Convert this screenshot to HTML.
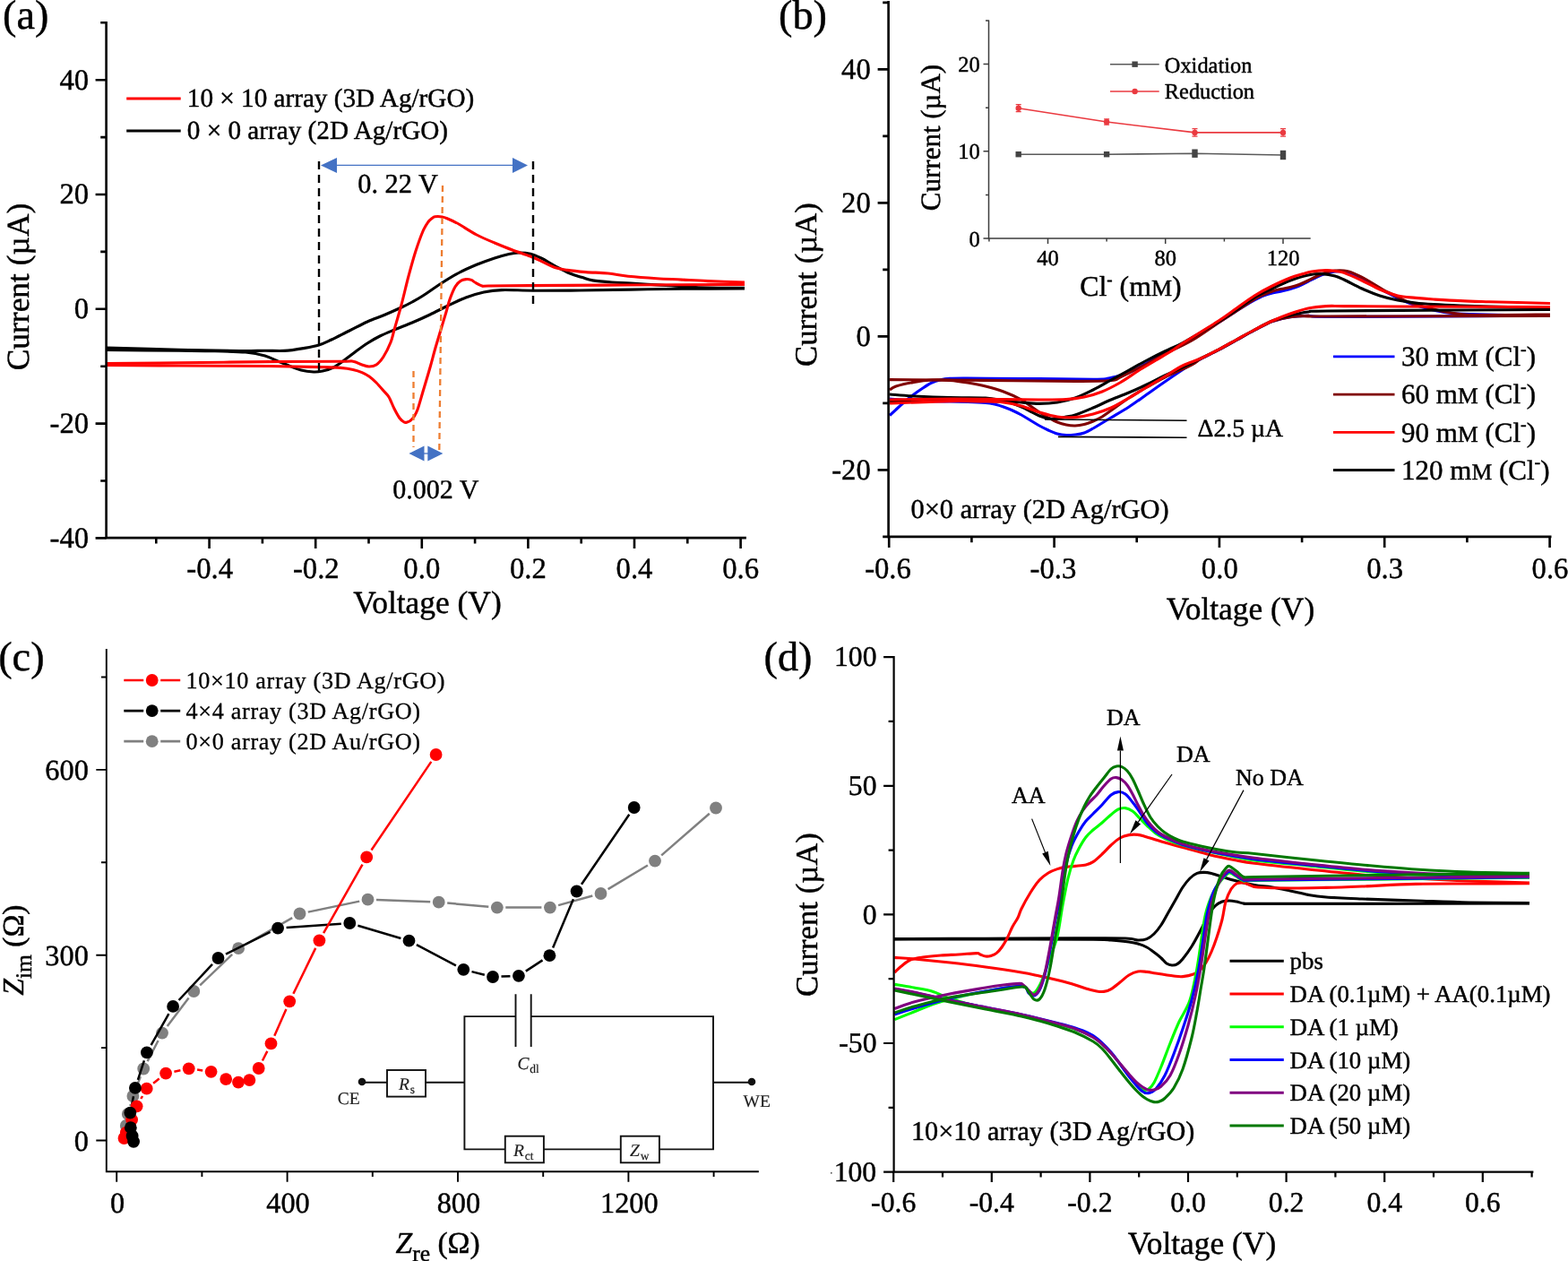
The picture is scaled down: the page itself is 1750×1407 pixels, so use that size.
<!DOCTYPE html>
<html lang="en">
<head>
<meta charset="utf-8">
<title>Electrochemical characterisation of Ag/rGO micropillar array electrodes</title>
<style>
html,body{margin:0;padding:0;background:#fff;}
body{width:1750px;height:1407px;overflow:hidden;font-family:"Liberation Serif","DejaVu Serif",serif;}
svg{display:block;}
</style>
</head>
<body>
<svg role="img" aria-label="Figure: electrochemical characterisation, panels a to d" width="1750" height="1407" viewBox="0 0 1750 1407" font-family="'Liberation Serif', 'DejaVu Serif', serif" text-rendering="geometricPrecision">
<style>text{stroke:#000;stroke-width:0.45px;stroke-linejoin:round}</style>
<rect width="1750" height="1407" fill="#fff"/>
<g id="panel-a">
<text x="234.2" y="644.7" font-size="32.7" text-anchor="middle">-0.4</text>
<text x="352.8" y="644.7" font-size="32.7" text-anchor="middle">-0.2</text>
<text x="470.8" y="644.7" font-size="32.7" text-anchor="middle">0.0</text>
<text x="589.4" y="644.7" font-size="32.7" text-anchor="middle">0.2</text>
<text x="708" y="644.7" font-size="32.7" text-anchor="middle">0.4</text>
<text x="826.6" y="644.7" font-size="32.7" text-anchor="middle">0.6</text>
<text x="99.2" y="99.6" font-size="32.7" text-anchor="end">40</text>
<text x="99.2" y="227.4" font-size="32.7" text-anchor="end">20</text>
<text x="99.2" y="355.2" font-size="32.7" text-anchor="end">0</text>
<text x="99.2" y="483" font-size="32.7" text-anchor="end">-20</text>
<text x="99.2" y="610.8" font-size="32.7" text-anchor="end">-40</text>
<text x="477" y="683.5" font-size="35.4" text-anchor="middle">Voltage (V)</text>
<text x="31.8" y="320" font-size="35.4" text-anchor="middle" transform="rotate(-90 31.8 320)">Current (µA)</text>
<text x="3" y="32" font-size="46.3">(a)</text>
<path d="M118.9 388C132.4 388.4 175.3 389.6 200 390.2C224.7 390.8 251.1 391.3 267 391.5C282.9 391.7 287.4 391.2 295.7 391.2C304 391.2 309.9 391.8 317 391.4C324.1 391 332.1 389.7 338.6 388.6C345.1 387.5 350.8 386.6 356 385C361.2 383.4 364.3 381.7 370 379C375.7 376.3 383.3 372.3 390 369C396.7 365.7 403.3 362 410 359C416.7 356 423.7 353.7 430 351C436.3 348.3 443 345.3 448 343C453 340.7 456 339.2 460 337C464 334.8 466.7 333.4 472 330C477.3 326.6 485.3 320.8 492 316.5C498.7 312.2 505.3 308 512 304.5C518.7 301 525.3 298.1 532 295.3C538.7 292.6 546 290 552 288C558 286 563.5 284.5 568 283.5C572.5 282.5 575 282.1 579 282C583 281.9 587.8 282.2 592 283.2C596.2 284.2 599.3 285.7 604 288C608.7 290.3 614.7 294.2 620 297C625.3 299.8 631 302.9 636 305C641 307.1 645.8 308.3 650 309.6C654.2 310.9 655.9 312 661.4 312.9C666.9 313.8 675.9 314.5 683 315C690.1 315.5 695.7 315.5 704 316C712.3 316.5 723.4 317.3 733 317.9C742.6 318.5 751.9 319.2 761.4 319.7C770.9 320.2 778.4 320.7 790 321C801.6 321.3 824.2 321.3 831 321.4" fill="none" stroke="#000" stroke-width="3.1" stroke-linejoin="round" stroke-linecap="butt" />
<path d="M831 321.9C819.3 322 782.2 322.1 761 322.3C739.8 322.5 723 322.8 704 323.1C685 323.4 665.2 323.8 647 324C628.8 324.2 609.5 324.3 595 324.2C580.5 324.1 569.2 323.3 560 323.6C550.8 323.9 546.7 324.6 540 326C533.3 327.4 526.7 329.5 520 332C513.3 334.5 506.7 337.8 500 341C493.3 344.2 486.7 347.8 480 351C473.3 354.2 466.7 357.2 460 360C453.3 362.8 446 365.5 440 368C434 370.5 429 372.5 424 375C419 377.5 414.7 380 410 383C405.3 386 400.3 389.8 396 393C391.7 396.2 388 399.2 384 402C380 404.8 376 408 372 410C368 412 363.7 413.2 360 414C356.3 414.8 354 415.2 350 415C346 414.8 341 414.3 336 413C331 411.7 324.3 408.7 320 407C315.7 405.3 314.1 404.7 310 403C305.9 401.3 301.7 398.7 295.7 397C289.7 395.3 283.3 393.9 274 393C264.7 392.1 252.3 392.1 240 391.8C227.7 391.5 220.2 391.5 200 391.3C179.8 391.1 132.4 390.6 118.9 390.5" fill="none" stroke="#000" stroke-width="3.1" stroke-linejoin="round" stroke-linecap="butt" />
<path d="M118.9 405.5C132.4 405.4 169.8 405.1 200 404.8C230.2 404.5 270 403.9 300 403.6C330 403.3 364.3 403.3 380 403.2C395.7 403.1 390 402.6 394 403.2C398 403.8 401 406 404 407C407 408 409.3 409 412 409C414.7 409 417.3 408.8 420 407C422.7 405.2 425.3 402.2 428 398C430.7 393.8 434 387 436 382C438 377 438 375 440 368C442 361 445.3 350 448 340C450.7 330 453.3 318 456 308C458.7 298 461.3 288.3 464 280C466.7 271.7 469.7 263.4 472 258C474.3 252.6 476.3 249.9 478 247.5C479.7 245.1 480.8 244.8 482 243.8C483.2 242.9 483.6 242.1 485.5 241.8C487.4 241.5 491.1 241.6 493.5 242C495.9 242.4 496.9 242.9 500 244.2C503.1 245.5 506.7 247 512 250C517.3 253 525.3 258.5 532 262C538.7 265.5 545.3 268.2 552 271C558.7 273.8 565.3 276.5 572 279C578.7 281.5 586.7 283.9 592 286C597.3 288.1 599.6 289.3 604 291.4C608.4 293.4 613.8 296.6 618.6 298.3C623.4 300 627.1 300.5 633 301.4C638.9 302.3 646.4 303 654 303.6C661.6 304.2 670.8 304.2 678.6 305C686.4 305.8 691.9 307.4 701 308.3C710.1 309.2 723 310.1 733 310.7C743 311.3 751.5 311.6 761 312.1C770.5 312.6 778.3 313.1 790 313.6C801.7 314.1 824.2 314.8 831 315" fill="none" stroke="#f00" stroke-width="3.1" stroke-linejoin="round" stroke-linecap="butt" />
<path d="M831 317.4C809.2 317.5 740.2 317.8 700 318C659.8 318.2 615.8 318.4 590 318.6C564.2 318.8 553.7 318.9 545 319C536.3 319.1 540.5 319.7 538 319C535.5 318.3 532 316.1 530 315C528 313.9 527.7 313 526 312.4C524.3 311.8 522 311.4 520 311.6C518 311.8 516 312.2 514 313.6C512 315 510 316.6 508 320C506 323.4 503.7 329.3 502 334C500.3 338.7 499.7 342.3 498 348C496.3 353.7 494 361.3 492 368C490 374.7 488 381 486 388C484 395 482.3 401.8 480 410C477.7 418.2 474.3 429.2 472 437C469.7 444.8 467.7 452.3 466 457C464.3 461.7 463.3 462.9 462 465C460.7 467.1 459.2 468.4 458 469.4C456.8 470.4 455.7 470.7 454.5 471C453.3 471.3 452.4 471.8 451 471C449.6 470.2 447.8 469 446 466.5C444.2 464 442 459.9 440 456C438 452.1 436 446.3 434 443C432 439.7 430.3 438.7 428 436C425.7 433.3 422.7 429.7 420 427C417.3 424.3 414.7 421.9 412 420C409.3 418.1 407 416.9 404 415.6C401 414.3 398 413.3 394 412.4C390 411.5 385.7 410.9 380 410.4C374.3 409.9 373.3 409.9 360 409.6C346.7 409.3 326.7 408.8 300 408.5C273.3 408.2 230.2 408.2 200 408C169.8 407.8 132.4 407.6 118.9 407.5" fill="none" stroke="#f00" stroke-width="3.1" stroke-linejoin="round" stroke-linecap="butt" />
<line x1="141.2" y1="110" x2="201.7" y2="110" stroke="#f00" stroke-width="3.1" />
<line x1="141.2" y1="146" x2="201.7" y2="146" stroke="#000" stroke-width="3.1" />
<text x="208.8" y="118.5" font-size="29.2">10 × 10 array (3D Ag/rGO)</text>
<text x="208.8" y="154.5" font-size="29.2">0 × 0 array (2D Ag/rGO)</text>
<line x1="356" y1="180" x2="356" y2="414" stroke="#000" stroke-width="2.4" stroke-dasharray="9 6"/>
<line x1="595" y1="180" x2="595" y2="342" stroke="#000" stroke-width="2.4" stroke-dasharray="9 6"/>
<line x1="494" y1="207" x2="490.3" y2="502" stroke="#ED7D31" stroke-width="2.3" stroke-dasharray="7 5"/>
<line x1="461.5" y1="414" x2="461.5" y2="499" stroke="#ED7D31" stroke-width="2.3" stroke-dasharray="7 5"/>
<path d="M372 184.4H574" stroke="#4472C4" stroke-width="1.3" fill="none"/>
<polygon points="358,184.4 376,176 376,193" fill="#4472C4"/>
<polygon points="589,184.4 572,176 572,193" fill="#4472C4"/>
<polygon points="456.4,506 473.5,497.5 473.5,514.5" fill="#4472C4"/>
<polygon points="494.4,506 477.3,497.5 477.3,514.5" fill="#4472C4"/>
<path d="M472 506H479" stroke="#4472C4" stroke-width="1.3"/>
<text x="399.3" y="215" font-size="30.3">0. 22 V</text>
<text x="438.3" y="555.5" font-size="30.0">0.002 V</text>
<path d="M118.6 25.2V600.1H831.6" fill="none" stroke="#000" stroke-width="2.6" stroke-linecap="square"/>
<path d="M233.6 600.1v12M352.2 600.1v12M470.8 600.1v12M589.4 600.1v12M708 600.1v12M826.6 600.1v12M174.3 600.1v6.4M292.9 600.1v6.4M411.5 600.1v6.4M530.1 600.1v6.4M648.7 600.1v6.4M767.3 600.1v6.4M118.6 89.2h-12M118.6 217h-12M118.6 344.8h-12M118.6 472.6h-12M118.6 600.4h-12M118.6 25.3h-6.4M118.6 153.1h-6.4M118.6 280.9h-6.4M118.6 408.7h-6.4M118.6 536.5h-6.4" fill="none" stroke="#000" stroke-width="2.6"/>
</g>
<g id="panel-b">
<text x="991" y="644.6" font-size="32.7" text-anchor="middle">-0.6</text>
<text x="1175.4" y="644.6" font-size="32.7" text-anchor="middle">-0.3</text>
<text x="1361.3" y="644.6" font-size="32.7" text-anchor="middle">0.0</text>
<text x="1545.7" y="644.6" font-size="32.7" text-anchor="middle">0.3</text>
<text x="1730" y="644.6" font-size="32.7" text-anchor="middle">0.6</text>
<text x="971.8" y="87.9" font-size="32.7" text-anchor="end">40</text>
<text x="971.8" y="236.9" font-size="32.7" text-anchor="end">20</text>
<text x="971.8" y="385.9" font-size="32.7" text-anchor="end">0</text>
<text x="971.8" y="534.9" font-size="32.7" text-anchor="end">-20</text>
<text x="1384.5" y="690.5" font-size="35.4" text-anchor="middle">Voltage (V)</text>
<text x="911.5" y="317.6" font-size="34.7" text-anchor="middle" transform="rotate(-90 911.5 317.6)">Current (µA)</text>
<text x="869" y="32" font-size="46.3">(b)</text>
<path d="M993 463.5C994.2 462.4 997.2 459.6 1000 457C1002.8 454.4 1006.7 450.8 1010 448C1013.3 445.2 1016.7 442.5 1020 440C1023.3 437.5 1026.7 435.2 1030 433C1033.3 430.8 1036.7 428.5 1040 427C1043.3 425.5 1046.7 424.6 1050 423.8C1053.3 423 1055.8 422.7 1060 422.4C1064.2 422.1 1068.3 422.1 1075 422.1C1081.7 422.1 1085.8 422.2 1100 422.3C1114.2 422.4 1140 422.5 1160 422.6C1180 422.8 1207.3 423.2 1220 423.2C1232.7 423.2 1231 423.1 1236 422.4C1241 421.7 1245.3 420.4 1250 419C1254.7 417.6 1259 416.3 1264 414C1269 411.7 1274 408.3 1280 405C1286 401.7 1293.3 397.5 1300 394C1306.7 390.5 1313.3 387.7 1320 384C1326.7 380.3 1333.3 376 1340 372C1346.7 368 1353.3 364.2 1360 360C1366.7 355.8 1373.3 351.2 1380 347C1386.7 342.8 1395 337.8 1400 335C1405 332.2 1406.7 331.3 1410 330C1413.3 328.7 1416.7 327.8 1420 327C1423.3 326.2 1426.7 325.8 1430 325C1433.3 324.2 1436.7 323.4 1440 322.4C1443.3 321.4 1446.7 320.4 1450 319C1453.3 317.6 1456.7 315.7 1460 314C1463.3 312.3 1466.7 310.5 1470 309C1473.3 307.5 1476.7 306 1480 305C1483.3 304 1486.7 303.3 1490 303C1493.3 302.7 1497.2 302.7 1500 303C1502.8 303.3 1504.5 303.8 1507 304.6C1509.5 305.4 1512 306.6 1515 308C1518 309.4 1521.7 311.2 1525 313C1528.3 314.8 1531.7 317 1535 319C1538.3 321 1541.7 323.2 1545 325C1548.3 326.8 1551.7 328.3 1555 330C1558.3 331.7 1561.7 333.5 1565 335C1568.3 336.5 1569.8 337.3 1575 339C1580.2 340.7 1589.2 343.3 1596 345C1602.8 346.7 1608.7 348.1 1616 349C1623.3 349.9 1629.3 350.2 1640 350.6C1650.7 351 1665 351.4 1680 351.5C1695 351.6 1721.7 351.5 1730 351.5" fill="none" stroke="#00f" stroke-width="3.1" stroke-linejoin="round" stroke-linecap="butt" />
<path d="M1730 352C1708.3 352.2 1641.7 352.8 1600 353C1558.3 353.2 1503.3 353.6 1480 353.5C1456.7 353.4 1466.7 352.4 1460 352.4C1453.3 352.4 1446.7 352.6 1440 353.6C1433.3 354.6 1426.7 356 1420 358.5C1413.3 361 1406.7 365 1400 368.5C1393.3 372 1386.7 375.8 1380 379.5C1373.3 383.2 1366.7 387 1360 390.5C1353.3 394 1345 397.9 1340 400.5C1335 403.1 1336.7 401.8 1330 406C1323.3 410.2 1308.3 420.3 1300 426C1291.7 431.7 1286.7 435.3 1280 440C1273.3 444.7 1266.7 449.7 1260 454C1253.3 458.3 1245 463 1240 466C1235 469 1233.3 470 1230 472C1226.7 474 1223.3 476.2 1220 478C1216.7 479.8 1213.3 481.8 1210 483C1206.7 484.2 1203.3 484.6 1200 485C1196.7 485.4 1193.3 485.8 1190 485.6C1186.7 485.4 1183.3 484.9 1180 484C1176.7 483.1 1173.3 481.5 1170 480C1166.7 478.5 1163.3 476.8 1160 475C1156.7 473.2 1153.3 471 1150 469C1146.7 467 1143.3 464.8 1140 463C1136.7 461.2 1133.3 459.5 1130 458C1126.7 456.5 1123.3 455.2 1120 454C1116.7 452.8 1113.3 451.8 1110 451C1106.7 450.2 1105 449.8 1100 449.4C1095 449 1086.7 448.6 1080 448.4C1073.3 448.2 1070 448.2 1060 448C1050 447.8 1031.2 447.5 1020 447C1008.8 446.5 997.5 445.3 993 445" fill="none" stroke="#00f" stroke-width="3.1" stroke-linejoin="round" stroke-linecap="butt" />
<path d="M993 423.6C1010.8 423.7 1065.5 424.1 1100 424.4C1134.5 424.7 1176.7 425.4 1200 425.4C1223.3 425.4 1231.7 425.2 1240 424.5C1248.3 423.8 1246.7 422.4 1250 421C1253.3 419.6 1255 418.5 1260 416C1265 413.5 1273.3 409.5 1280 406C1286.7 402.5 1291.7 399.3 1300 395C1308.3 390.7 1320 385.8 1330 380C1340 374.2 1351.7 365.5 1360 360C1368.3 354.5 1373.3 351.3 1380 347C1386.7 342.7 1395 337 1400 334C1405 331 1406.7 330.5 1410 329C1413.3 327.5 1416.7 326.1 1420 325C1423.3 323.9 1426.7 323.2 1430 322.5C1433.3 321.8 1436.7 321.3 1440 320.5C1443.3 319.7 1446.7 318.8 1450 317.5C1453.3 316.2 1456.7 314.6 1460 313C1463.3 311.4 1466.7 309.5 1470 308C1473.3 306.5 1476.7 305 1480 304C1483.3 303 1486.7 302.3 1490 302C1493.3 301.7 1497.2 301.7 1500 302C1502.8 302.3 1504.5 302.8 1507 303.6C1509.5 304.4 1512 305.6 1515 307C1518 308.4 1521.7 310.2 1525 312C1528.3 313.8 1531.7 316 1535 318C1538.3 320 1541.7 322.2 1545 324C1548.3 325.8 1551.7 327.3 1555 329C1558.3 330.7 1561.7 332.5 1565 334C1568.3 335.5 1569.8 336.3 1575 338C1580.2 339.7 1589.2 342.2 1596 344C1602.8 345.8 1607.7 347.2 1616 348.5C1624.3 349.8 1627 351.1 1646 351.5C1665 351.9 1716 351.1 1730 351" fill="none" stroke="#800000" stroke-width="3.1" stroke-linejoin="round" stroke-linecap="butt" />
<path d="M1730 352.5C1688.3 352.6 1525 353 1480 353C1435 353 1466.7 352.3 1460 352.4C1453.3 352.5 1446.7 352.6 1440 353.6C1433.3 354.6 1426.7 356 1420 358.5C1413.3 361 1406.7 365 1400 368.5C1393.3 372 1386.7 375.8 1380 379.5C1373.3 383.2 1366.7 387 1360 390.5C1353.3 394 1345 397.8 1340 400.5C1335 403.2 1336.7 403.6 1330 407C1323.3 410.4 1308.3 416.8 1300 421C1291.7 425.2 1286.7 428.2 1280 432C1273.3 435.8 1266.7 439.7 1260 444C1253.3 448.3 1245 454.5 1240 458C1235 461.5 1233.3 463 1230 465C1226.7 467 1223.3 468.6 1220 470C1216.7 471.4 1213.3 472.8 1210 473.6C1206.7 474.4 1203.3 474.9 1200 475C1196.7 475.1 1193.3 474.7 1190 474C1186.7 473.3 1183.3 472.3 1180 471C1176.7 469.7 1173.3 467.8 1170 466C1166.7 464.2 1163.3 462.2 1160 460C1156.7 457.8 1153.3 455.3 1150 453C1146.7 450.7 1145 448.7 1140 446C1135 443.3 1126.7 439.5 1120 437C1113.3 434.5 1106.7 432.7 1100 431C1093.3 429.3 1086.7 428.1 1080 427C1073.3 425.9 1066.7 424.9 1060 424.4C1053.3 423.9 1046.7 423.7 1040 424C1033.3 424.3 1026.7 425.2 1020 426.4C1013.3 427.6 1004.5 429.6 1000 431C995.5 432.4 994.2 434.3 993 435" fill="none" stroke="#800000" stroke-width="3.1" stroke-linejoin="round" stroke-linecap="butt" />
<path d="M993 440C997.5 440.3 1008.8 441.4 1020 442C1031.2 442.6 1046.7 443.3 1060 443.6C1073.3 443.9 1090 443.4 1100 444C1110 444.6 1113.3 446.2 1120 447C1126.7 447.8 1133.3 448.4 1140 449C1146.7 449.6 1153.3 450.4 1160 450.4C1166.7 450.4 1173.3 450.1 1180 449C1186.7 447.9 1193.3 446.3 1200 444C1206.7 441.7 1213.3 438.3 1220 435C1226.7 431.7 1233.3 427.7 1240 424C1246.7 420.3 1253.3 416.7 1260 413C1266.7 409.3 1273.3 405.5 1280 402C1286.7 398.5 1293.3 395.2 1300 392C1306.7 388.8 1313.3 386 1320 382.5C1326.7 379 1333.3 374.9 1340 371C1346.7 367.1 1353.3 363.2 1360 359C1366.7 354.8 1373.3 350.5 1380 346C1386.7 341.5 1393.3 336 1400 332C1406.7 328 1413.3 325.2 1420 322C1426.7 318.8 1433.3 315.5 1440 313C1446.7 310.5 1454 308.2 1460 307C1466 305.8 1471 305.4 1476 305.6C1481 305.8 1486 306.9 1490 308C1494 309.1 1495 309.7 1500 312C1505 314.3 1513.3 319 1520 322C1526.7 325 1533.3 327.8 1540 330C1546.7 332.2 1553.3 333.7 1560 335C1566.7 336.3 1573.3 337.2 1580 338C1586.7 338.8 1591.7 339.1 1600 339.6C1608.3 340.1 1619.7 340.6 1630 341C1640.3 341.4 1645.3 341.6 1662 342C1678.7 342.4 1718.7 343.2 1730 343.5" fill="none" stroke="#000" stroke-width="3.1" stroke-linejoin="round" stroke-linecap="butt" />
<path d="M1730 345.5C1713.3 345.6 1671.7 345.8 1630 346C1588.3 346.2 1508.3 346.7 1480 347C1451.7 347.3 1466.7 347.2 1460 348C1453.3 348.8 1446.7 350.3 1440 352C1433.3 353.7 1426.7 355.3 1420 358C1413.3 360.7 1406.7 364.5 1400 368C1393.3 371.5 1386.7 375.3 1380 379C1373.3 382.7 1366.7 386.5 1360 390C1353.3 393.5 1345 397.5 1340 400C1335 402.5 1336.7 401.8 1330 405C1323.3 408.2 1308.3 415 1300 419C1291.7 423 1286.7 425.8 1280 429C1273.3 432.2 1266.7 435.2 1260 438C1253.3 440.8 1246.7 443.2 1240 446C1233.3 448.8 1226.7 452.2 1220 455C1213.3 457.8 1205 461.3 1200 463C1195 464.7 1193.3 464.3 1190 465C1186.7 465.7 1183.3 466.7 1180 467C1176.7 467.3 1173.3 467.5 1170 467C1166.7 466.5 1163.3 465.3 1160 464C1156.7 462.7 1153.3 460.7 1150 459C1146.7 457.3 1145 456 1140 454C1135 452 1126.7 448.5 1120 447C1113.3 445.5 1110 445.2 1100 445C1090 444.8 1077.8 445.5 1060 446C1042.2 446.5 1004.2 447.7 993 448" fill="none" stroke="#000" stroke-width="3.1" stroke-linejoin="round" stroke-linecap="butt" />
<path d="M993 446C1004.2 445.8 1038.8 445.1 1060 445C1081.2 444.9 1103.3 445.4 1120 445.6C1136.7 445.8 1148.3 446 1160 446C1171.7 446 1181.7 446.1 1190 445.6C1198.3 445.1 1203.3 444.4 1210 443C1216.7 441.6 1223.3 439.7 1230 437C1236.7 434.3 1243.3 430.8 1250 427C1256.7 423.2 1263.3 418.2 1270 414C1276.7 409.8 1283.3 406 1290 402C1296.7 398 1305 393.2 1310 390C1315 386.8 1311.7 388.3 1320 383C1328.3 377.7 1350 364.5 1360 358C1370 351.5 1373.3 348.7 1380 344C1386.7 339.3 1393.3 334.2 1400 330C1406.7 325.8 1413.3 322.3 1420 319C1426.7 315.7 1434.3 312.2 1440 310C1445.7 307.8 1450 306.8 1454 305.6C1458 304.4 1459.7 303.7 1464 303C1468.3 302.3 1475.7 301.7 1480 301.6C1484.3 301.5 1486.7 301.9 1490 302.4C1493.3 302.9 1495 302.6 1500 304.4C1505 306.2 1513.3 309.9 1520 313C1526.7 316.1 1533.3 320.2 1540 323C1546.7 325.8 1553.3 328.4 1560 330C1566.7 331.6 1573.3 331.7 1580 332.4C1586.7 333.1 1591.7 333.5 1600 334C1608.3 334.5 1619.7 335.2 1630 335.6C1640.3 336.1 1645.3 336.2 1662 336.7C1678.7 337.2 1718.7 338.2 1730 338.5" fill="none" stroke="#f00" stroke-width="3.1" stroke-linejoin="round" stroke-linecap="butt" />
<path d="M1730 342.5C1701.7 342.4 1598.3 342.1 1560 342C1521.7 341.9 1513.3 341.7 1500 341.6C1486.7 341.5 1486.7 341.2 1480 341.6C1473.3 342 1466.7 342.6 1460 344C1453.3 345.4 1446.7 347.7 1440 350C1433.3 352.3 1426.7 355 1420 358C1413.3 361 1406.7 364.5 1400 368C1393.3 371.5 1386.7 375.3 1380 379C1373.3 382.7 1366.7 386.5 1360 390C1353.3 393.5 1346.7 397 1340 400C1333.3 403 1326.7 404.7 1320 408C1313.3 411.3 1306.7 416 1300 420C1293.3 424 1286.7 428 1280 432C1273.3 436 1266.7 440.2 1260 444C1253.3 447.8 1246.7 452 1240 455C1233.3 458 1226.7 460.2 1220 462C1213.3 463.8 1206.7 465.1 1200 465.6C1193.3 466.1 1186.7 465.9 1180 465C1173.3 464.1 1166.7 462 1160 460C1153.3 458 1146.7 454.8 1140 453C1133.3 451.2 1126.7 449.8 1120 449C1113.3 448.2 1110 448.2 1100 448C1090 447.8 1077.8 447.3 1060 447.6C1042.2 447.9 1004.2 449.6 993 450" fill="none" stroke="#f00" stroke-width="3.1" stroke-linejoin="round" stroke-linecap="butt" />
<line x1="1166" y1="468" x2="1324.5" y2="469.2" stroke="#000" stroke-width="1.6" />
<line x1="1181" y1="487.4" x2="1324.5" y2="488.2" stroke="#000" stroke-width="1.6" />
<text x="1336.5" y="486.5" font-size="27.8">Δ2.5 µA</text>
<text x="1016.5" y="577.7" font-size="30.4">0×0 array (2D Ag/rGO)</text>
<line x1="1488" y1="397.9" x2="1556.5" y2="397.9" stroke="#00f" stroke-width="2.8" />
<text x="1564" y="408.2" font-size="31">30 m<tspan font-size="25.6">M</tspan> (Cl<tspan font-size="20" dy="-12.5">-</tspan><tspan dy="12.5">)</tspan></text>
<line x1="1488" y1="440.1" x2="1556.5" y2="440.1" stroke="#800000" stroke-width="2.8" />
<text x="1564" y="450.4" font-size="31">60 m<tspan font-size="25.6">M</tspan> (Cl<tspan font-size="20" dy="-12.5">-</tspan><tspan dy="12.5">)</tspan></text>
<line x1="1488" y1="482.3" x2="1556.5" y2="482.3" stroke="#f00" stroke-width="2.8" />
<text x="1564" y="492.6" font-size="31">90 m<tspan font-size="25.6">M</tspan> (Cl<tspan font-size="20" dy="-12.5">-</tspan><tspan dy="12.5">)</tspan></text>
<line x1="1488" y1="524.5" x2="1556.5" y2="524.5" stroke="#000" stroke-width="2.8" />
<text x="1564" y="534.8" font-size="31">120 m<tspan font-size="25.6">M</tspan> (Cl<tspan font-size="20" dy="-12.5">-</tspan><tspan dy="12.5">)</tspan></text>
<path d="M1103.5 22.6V266H1462.7" fill="none" stroke="#3c3c3c" stroke-width="1.5"/>
<path d="M1169.5 266v6M1300.7 266v6M1432 266v6M1103.9 266v3.5M1235.1 266v3.5M1366.4 266v3.5M1103.5 266h-6M1103.5 168.8h-6M1103.5 71.6h-6M1103.5 217.4h-3.5M1103.5 120.2h-3.5M1103.5 23h-3.5" fill="none" stroke="#3c3c3c" stroke-width="1.5"/>
<text x="1169.5" y="295.5" font-size="24.5" text-anchor="middle">40</text>
<text x="1300.7" y="295.5" font-size="24.5" text-anchor="middle">80</text>
<text x="1432" y="295.5" font-size="24.5" text-anchor="middle">120</text>
<text x="1093.8" y="274.6" font-size="24.5" text-anchor="end">0</text>
<text x="1093.8" y="177.4" font-size="24.5" text-anchor="end">10</text>
<text x="1093.8" y="80.2" font-size="24.5" text-anchor="end">20</text>
<text x="1049.2" y="153.5" font-size="31" text-anchor="middle" transform="rotate(-90 1049.2 153.5)">Current (µA)</text>
<text x="1205.3" y="330" font-size="31.8">Cl<tspan font-size="19" dy="-12">-</tspan><tspan dy="12"> (m</tspan><tspan font-size="26">M</tspan>)</text>
<polyline points="1136.7,172.2 1235.1,172.2 1333.5,171.2 1432,173" fill="none" stroke="#5a5a5a" stroke-width="1.6"/>
<polyline points="1136.7,120.7 1235.1,136 1333.5,147.9 1432,147.9" fill="none" stroke="#ea3a40" stroke-width="1.6"/>
<rect x="1133.5" y="169" width="6.4" height="6.4" fill="#444"/>
<rect x="1231.9" y="169" width="6.4" height="6.4" fill="#444"/>
<rect x="1330.3" y="166.5" width="6.4" height="9.4" fill="#444"/>
<rect x="1428.8" y="167.8" width="6.4" height="10.4" fill="#444"/>
<path d="M1136.7 116.7v8M1133.7 116.7h6M1133.7 124.7h6" stroke="#ea3a40" stroke-width="1.3" fill="none"/>
<circle cx="1136.7" cy="120.7" r="3.2" fill="#ea3a40"/>
<path d="M1235.1 132.8v6.4M1232.1 132.8h6M1232.1 139.2h6" stroke="#ea3a40" stroke-width="1.3" fill="none"/>
<circle cx="1235.1" cy="136" r="3.2" fill="#ea3a40"/>
<path d="M1333.5 143.7v8.4M1330.5 143.7h6M1330.5 152.1h6" stroke="#ea3a40" stroke-width="1.3" fill="none"/>
<circle cx="1333.5" cy="147.9" r="3.2" fill="#ea3a40"/>
<path d="M1432 143.7v8.4M1429 143.7h6M1429 152.1h6" stroke="#ea3a40" stroke-width="1.3" fill="none"/>
<circle cx="1432" cy="147.9" r="3.2" fill="#ea3a40"/>
<line x1="1239" y1="71.7" x2="1293.7" y2="71.7" stroke="#5a5a5a" stroke-width="1.6" />
<rect x="1263.4" y="68.5" width="6.4" height="6.4" fill="#444"/>
<line x1="1239" y1="102" x2="1293.7" y2="102" stroke="#ea3a40" stroke-width="1.6" />
<circle cx="1266.6" cy="102" r="3.2" fill="#ea3a40"/>
<text x="1299.8" y="80.5" font-size="24.4">Oxidation</text>
<text x="1299.8" y="110.2" font-size="24.4">Reduction</text>
<path d="M991.6 2.4V598.9H1730.2" fill="none" stroke="#000" stroke-width="2.6" stroke-linecap="square"/>
<path d="M992.2 598.9v12M1176.6 598.9v12M1360.9 598.9v12M1545.2 598.9v12M1729.6 598.9v12M1084.4 598.9v6.4M1268.7 598.9v6.4M1453.1 598.9v6.4M1637.4 598.9v6.4M991.6 77.4h-12M991.6 226.4h-12M991.6 375.4h-12M991.6 524.4h-12M991.6 2.9h-6.4M991.6 151.9h-6.4M991.6 300.9h-6.4M991.6 449.9h-6.4M991.6 598.9h-6.4" fill="none" stroke="#000" stroke-width="2.6"/>
</g>
<g id="panel-c">
<text x="131.1" y="1353.2" font-size="32.3" text-anchor="middle">0</text>
<text x="321.5" y="1353.2" font-size="32.3" text-anchor="middle">400</text>
<text x="511.9" y="1353.2" font-size="32.3" text-anchor="middle">800</text>
<text x="702.3" y="1353.2" font-size="32.3" text-anchor="middle">1200</text>
<text x="98.8" y="1283.7" font-size="32.3" text-anchor="end">0</text>
<text x="98.8" y="1076.9" font-size="32.3" text-anchor="end">300</text>
<text x="98.8" y="870.1" font-size="32.3" text-anchor="end">600</text>
<text x="-1.8" y="748.2" font-size="46.3">(c)</text>
<text x="441.5" y="1398" font-size="33.6"><tspan font-style="italic">Z</tspan><tspan font-size="25.5" dy="8.5">re</tspan><tspan dy="-8.5"> (Ω)</tspan></text>
<text x="26.3" y="1110.8" font-size="33.6" transform="rotate(-90 26.3 1110.8)"><tspan font-style="italic">Z</tspan><tspan font-size="25.5" dy="8.5">im</tspan><tspan dy="-8.5"> (Ω)</tspan></text>
<path d="M145.4 1233.9L145.8 1232.1M151.8 1214.1L156.8 1201.4M164.6 1184.1L176.6 1161M186.7 1145L210.6 1113.6M223.2 1099.4L259.2 1064.8M274.4 1053.5L326.2 1024.2M343.8 1017.6L401.2 1005.6M420 1004.1L480.2 1006.3M499.2 1007.6L545.3 1011.7M564.3 1012.6L604.4 1012.6M623.1 1010.1L661.3 999.5M678.6 992.1L722.9 965.5M738.2 954.4L791.8 907.7" stroke="#808080" stroke-width="2.5" fill="none"/>
<circle cx="139.6" cy="1268.7" r="6.9" fill="#808080"/>
<circle cx="140.8" cy="1256" r="6.9" fill="#808080"/>
<circle cx="142.8" cy="1243" r="6.9" fill="#808080"/>
<circle cx="148.4" cy="1223" r="6.9" fill="#808080"/>
<circle cx="160.2" cy="1192.5" r="6.9" fill="#808080"/>
<circle cx="181" cy="1152.6" r="6.9" fill="#808080"/>
<circle cx="216.3" cy="1106" r="6.9" fill="#808080"/>
<circle cx="266.1" cy="1058.2" r="6.9" fill="#808080"/>
<circle cx="334.5" cy="1019.5" r="6.9" fill="#808080"/>
<circle cx="410.5" cy="1003.7" r="6.9" fill="#808080"/>
<circle cx="489.7" cy="1006.7" r="6.9" fill="#808080"/>
<circle cx="554.8" cy="1012.6" r="6.9" fill="#808080"/>
<circle cx="613.9" cy="1012.6" r="6.9" fill="#808080"/>
<circle cx="670.5" cy="997" r="6.9" fill="#808080"/>
<circle cx="731" cy="960.6" r="6.9" fill="#808080"/>
<circle cx="799" cy="901.5" r="6.9" fill="#808080"/>
<path d="M147.2 1232.3L149 1223.2M153.9 1204.9L160.9 1183.4M168.6 1166.1L188.4 1131.2M199.6 1116L237 1075.9M252 1064.7L301.6 1039.9M319.6 1034.9L380.8 1030.7M399.4 1032.7L447.4 1047M464.9 1054.1L508.9 1077.4M526.5 1084.1L540.8 1087.7M559.5 1089.6L569.4 1089.2M586.8 1083.6L605.5 1071.4M617.1 1057.4L639.9 1003.3M649 986.7L702.3 908.8" stroke="#000" stroke-width="2.5" fill="none"/>
<path d="M157.3 1226L159 1223M171.1 1208.8L177.7 1203.5M194.4 1195.7L201.4 1194.2M220.1 1193.6L226.2 1194.5M292.9 1183.5L298.3 1172.9M306.3 1155.7L319.4 1126M327.4 1108.8L352.2 1057.9M361.1 1041.1L404.5 964.7M414.5 948.5L481.3 849.9" stroke="#f00" stroke-width="2.5" fill="none"/>
<circle cx="138.5" cy="1270" r="6.9" fill="#f00"/>
<circle cx="140.8" cy="1263.7" r="6.9" fill="#f00"/>
<circle cx="147.1" cy="1249.4" r="6.9" fill="#f00"/>
<circle cx="152.6" cy="1234.3" r="6.9" fill="#f00"/>
<circle cx="163.7" cy="1214.7" r="6.9" fill="#f00"/>
<circle cx="185.1" cy="1197.6" r="6.9" fill="#f00"/>
<circle cx="210.7" cy="1192.3" r="6.9" fill="#f00"/>
<circle cx="235.6" cy="1195.8" r="6.9" fill="#f00"/>
<circle cx="252.2" cy="1204.1" r="6.9" fill="#f00"/>
<circle cx="266" cy="1207.6" r="6.9" fill="#f00"/>
<circle cx="278.4" cy="1205.1" r="6.9" fill="#f00"/>
<circle cx="288.7" cy="1192" r="6.9" fill="#f00"/>
<circle cx="302.5" cy="1164.4" r="6.9" fill="#f00"/>
<circle cx="323.2" cy="1117.3" r="6.9" fill="#f00"/>
<circle cx="356.4" cy="1049.4" r="6.9" fill="#f00"/>
<circle cx="409.2" cy="956.4" r="6.9" fill="#f00"/>
<circle cx="486.6" cy="842" r="6.9" fill="#f00"/>
<circle cx="149.1" cy="1273.8" r="6.9" fill="#000"/>
<circle cx="147.6" cy="1267.5" r="6.9" fill="#000"/>
<circle cx="145.8" cy="1258.2" r="6.9" fill="#000"/>
<circle cx="145.3" cy="1241.6" r="6.9" fill="#000"/>
<circle cx="150.9" cy="1213.9" r="6.9" fill="#000"/>
<circle cx="163.9" cy="1174.4" r="6.9" fill="#000"/>
<circle cx="193.1" cy="1122.9" r="6.9" fill="#000"/>
<circle cx="243.5" cy="1069" r="6.9" fill="#000"/>
<circle cx="310.1" cy="1035.6" r="6.9" fill="#000"/>
<circle cx="390.3" cy="1030" r="6.9" fill="#000"/>
<circle cx="456.5" cy="1049.7" r="6.9" fill="#000"/>
<circle cx="517.3" cy="1081.8" r="6.9" fill="#000"/>
<circle cx="550" cy="1090" r="6.9" fill="#000"/>
<circle cx="578.9" cy="1088.8" r="6.9" fill="#000"/>
<circle cx="613.4" cy="1066.2" r="6.9" fill="#000"/>
<circle cx="643.6" cy="994.5" r="6.9" fill="#000"/>
<circle cx="707.7" cy="901" r="6.9" fill="#000"/>
<path d="M138.3 759H160.2M179.2 759H201.2" stroke="#f00" stroke-width="2.7"/>
<circle cx="169.7" cy="759" r="6.9" fill="#f00"/>
<text x="207.6" y="768.2" font-size="26.2" style="letter-spacing:0.66px;stroke-width:0.3px">10×10 array (3D Ag/rGO)</text>
<path d="M138.3 793.1H160.2M179.2 793.1H201.2" stroke="#000" stroke-width="2.7"/>
<circle cx="169.7" cy="793.1" r="6.9" fill="#000"/>
<text x="207.6" y="802.3" font-size="26.2" style="letter-spacing:0.66px;stroke-width:0.3px">4×4 array (3D Ag/rGO)</text>
<path d="M138.3 827.2H160.2M179.2 827.2H201.2" stroke="#808080" stroke-width="2.7"/>
<circle cx="169.7" cy="827.2" r="6.9" fill="#808080"/>
<text x="207.6" y="836.4" font-size="26.2" style="letter-spacing:0.66px;stroke-width:0.3px">0×0 array (2D Au/rGO)</text>
<g fill="none" stroke="#111" stroke-width="1.9">
<path d="M404 1207.8H432M475 1207.8H518.4M796 1207.8H839"/>
<path d="M575.5 1134.1H518.4V1282.4H563.6M606.7 1282.4H692.8M735.9 1282.4H796V1134.1H592.7"/>
<path d="M575.5 1109.3V1168M592.7 1109.3V1168"/>
<rect x="432" y="1194" width="43" height="29.6"/>
<rect x="563.8" y="1267.7" width="43.1" height="29.6"/>
<rect x="692.8" y="1267.7" width="43.1" height="29.6"/>
<path d="M118.8 725V1307.3H845.9" fill="none" stroke="#000" stroke-width="1.9" stroke-linecap="square"/>
<path d="M130.2 1307.3v11.5M320.6 1307.3v11.5M511 1307.3v11.5M701.4 1307.3v11.5M225.4 1307.3v5.8M415.8 1307.3v5.8M606.2 1307.3v5.8M796.6 1307.3v5.8M118.8 1272.5h-11.5M118.8 1065.7h-11.5M118.8 858.9h-11.5M118.8 1169.1h-5.8M118.8 962.3h-5.8M118.8 755.5h-5.8" fill="none" stroke="#000" stroke-width="1.9"/>
</g>
<circle cx="404" cy="1207" r="4.3" fill="#111"/><circle cx="839" cy="1207" r="4.3" fill="#111"/>
<text x="376.8" y="1231.5" font-size="19.5" style="stroke-width:0.15px" fill="#222" stroke="#222">CE</text>
<text x="829.5" y="1235.3" font-size="19.5" style="stroke-width:0.15px" fill="#222" stroke="#222">WE</text>
<text x="445" y="1216" font-size="19.5" style="stroke-width:0.15px" fill="#222" stroke="#222"><tspan font-style="italic">R</tspan><tspan font-size="13.5" dy="4" dx="0.8">s</tspan></text>
<text x="577.5" y="1192.7" font-size="19.5" style="stroke-width:0.15px" fill="#222" stroke="#222"><tspan font-style="italic">C</tspan><tspan font-size="13.5" dy="4" dx="0.8">dl</tspan></text>
<text x="573" y="1289.6" font-size="19.5" style="stroke-width:0.15px" fill="#222" stroke="#222"><tspan font-style="italic">R</tspan><tspan font-size="13.5" dy="4" dx="0.8">ct</tspan></text>
<text x="703" y="1289.6" font-size="19.5" style="stroke-width:0.15px" fill="#222" stroke="#222"><tspan font-style="italic">Z</tspan><tspan font-size="13.5" dy="4" dx="0.8">w</tspan></text>
</g>
<g id="panel-d">
<text x="997.2" y="1351.8" font-size="31.7" text-anchor="middle">-0.6</text>
<text x="1106.8" y="1351.8" font-size="31.7" text-anchor="middle">-0.4</text>
<text x="1216.4" y="1351.8" font-size="31.7" text-anchor="middle">-0.2</text>
<text x="1326" y="1351.8" font-size="31.7" text-anchor="middle">0.0</text>
<text x="1435.6" y="1351.8" font-size="31.7" text-anchor="middle">0.2</text>
<text x="1545.2" y="1351.8" font-size="31.7" text-anchor="middle">0.4</text>
<text x="1654.8" y="1351.8" font-size="31.7" text-anchor="middle">0.6</text>
<text x="978.5" y="743.3" font-size="31.7" text-anchor="end">100</text>
<text x="978.5" y="887" font-size="31.7" text-anchor="end">50</text>
<text x="978.5" y="1030.6" font-size="31.7" text-anchor="end">0</text>
<text x="978.5" y="1174.2" font-size="31.7" text-anchor="end">-50</text>
<text x="978.2" y="1317.9" font-size="31.7" text-anchor="end">100</text>
<rect x="927" y="1308" width="1.6" height="1.6" fill="#555"/>
<text x="1341.5" y="1398.6" font-size="35.4" text-anchor="middle">Voltage (V)</text>
<text x="911.8" y="1020.6" font-size="34.7" text-anchor="middle" transform="rotate(-90 911.8 1020.6)">Current (µA)</text>
<text x="852.5" y="748.3" font-size="46.3">(d)</text>
<path d="M998 1047.6C1015 1047.5 1066.3 1047.3 1100 1047.2C1133.7 1047.1 1174 1046.9 1200 1046.9C1226 1046.9 1244.3 1046.7 1256 1047C1267.7 1047.3 1266 1048.9 1270 1049C1274 1049.1 1277 1048.8 1280 1047.6C1283 1046.4 1285.3 1044.6 1288 1042C1290.7 1039.4 1293.3 1036 1296 1032C1298.7 1028 1301.3 1022.7 1304 1018C1306.7 1013.3 1309.3 1008.7 1312 1004C1314.7 999.3 1317.3 994 1320 990C1322.7 986 1325.3 982.6 1328 980C1330.7 977.4 1333.3 975.5 1336 974.4C1338.7 973.3 1341.3 973.4 1344 973.4C1346.7 973.4 1349.3 973.8 1352 974.4C1354.7 975 1355.3 975.6 1360 977C1364.7 978.4 1373.3 981.2 1380 983C1386.7 984.8 1393.3 986.3 1400 987.5C1406.7 988.7 1413.3 988.9 1420 990C1426.7 991.1 1433.3 992.6 1440 994C1446.7 995.4 1453.3 997.2 1460 998.4C1466.7 999.6 1470 1000.2 1480 1001C1490 1001.8 1503.3 1002.3 1520 1003C1536.7 1003.7 1560 1004.3 1580 1005C1600 1005.7 1618.8 1006.6 1640 1007C1661.2 1007.4 1695.8 1007.5 1707 1007.6" fill="none" stroke="#000" stroke-width="3.1" stroke-linejoin="round" stroke-linecap="butt" />
<path d="M1707 1008C1672.5 1008.1 1551.2 1008.3 1500 1008.4C1448.8 1008.5 1418.7 1008.5 1400 1008.4C1381.3 1008.3 1391.3 1008.4 1388 1008C1384.7 1007.6 1382.7 1006.5 1380 1006C1377.3 1005.5 1374.7 1005 1372 1005C1369.3 1005 1366.7 1005 1364 1006C1361.3 1007 1358.7 1008.3 1356 1011C1353.3 1013.7 1350.7 1017.5 1348 1022C1345.3 1026.5 1343 1032.3 1340 1038C1337 1043.7 1333.3 1050.7 1330 1056C1326.7 1061.3 1322.7 1066.7 1320 1070C1317.3 1073.3 1316 1074.4 1314 1075.6C1312 1076.8 1310 1077.1 1308 1077C1306 1076.9 1304 1076.3 1302 1075C1300 1073.7 1298 1070.8 1296 1069C1294 1067.2 1292.7 1066 1290 1064C1287.3 1062 1283.3 1058.8 1280 1057C1276.7 1055.2 1273.3 1054 1270 1053C1266.7 1052 1265 1051.7 1260 1051C1255 1050.3 1246.7 1049.5 1240 1049C1233.3 1048.5 1243.3 1048.5 1220 1048.3C1196.7 1048.1 1137 1048 1100 1047.9C1063 1047.9 1015 1048 998 1048" fill="none" stroke="#000" stroke-width="3.1" stroke-linejoin="round" stroke-linecap="butt" />
<path d="M998.4 1085C999.7 1083.8 1003.1 1080.3 1006 1078C1008.9 1075.7 1012 1072.7 1016 1071C1020 1069.3 1024.3 1068.8 1030 1068C1035.7 1067.2 1043.3 1066.5 1050 1066C1056.7 1065.5 1063.3 1065.4 1070 1065C1076.7 1064.6 1086 1063.6 1090 1063.6C1094 1063.6 1092.3 1064.4 1094 1065C1095.7 1065.6 1098 1066.8 1100 1067C1102 1067.2 1104 1067 1106 1066.4C1108 1065.8 1110 1065.2 1112 1063.6C1114 1062 1116 1059.8 1118 1057C1120 1054.2 1122 1050.8 1124 1047C1126 1043.2 1128 1037.8 1130 1034C1132 1030.2 1134.3 1027.3 1136 1024C1137.7 1020.7 1137.7 1018.7 1140 1014C1142.3 1009.3 1146.7 1001.3 1150 996C1153.3 990.7 1156.7 985.7 1160 982C1163.3 978.3 1166.7 976.1 1170 974C1173.3 971.9 1176.7 970.7 1180 969.6C1183.3 968.5 1186.7 967.9 1190 967.4C1193.3 966.9 1196.3 966.8 1200 966.4C1203.7 966 1208.7 965.8 1212 965C1215.3 964.2 1217 963.6 1220 961.6C1223 959.6 1226.7 956.1 1230 953C1233.3 949.9 1236.7 946 1240 943C1243.3 940 1246.7 936.9 1250 935C1253.3 933.1 1256.7 932.2 1260 931.6C1263.3 931 1266.7 931 1270 931.4C1273.3 931.8 1275 932.6 1280 934C1285 935.4 1293.3 938.1 1300 940C1306.7 941.9 1313.3 943.8 1320 945.6C1326.7 947.4 1333.3 949.3 1340 951C1346.7 952.7 1353.3 954.5 1360 956C1366.7 957.5 1373.3 958.8 1380 960C1386.7 961.2 1386.7 961.6 1400 963.3C1413.3 965 1440 967.9 1460 970C1480 972.1 1500 974.3 1520 976C1540 977.7 1560 978.8 1580 980C1600 981.2 1618.8 982.2 1640 983C1661.2 983.8 1695.8 984.7 1707 985" fill="none" stroke="#f00" stroke-width="3.1" stroke-linejoin="round" stroke-linecap="butt" />
<path d="M1707 985.6C1695.8 985.7 1661.2 985.9 1640 986C1618.8 986.1 1600 985.9 1580 986.4C1560 986.9 1536.7 988.3 1520 989C1503.3 989.7 1493.3 990.1 1480 990.4C1466.7 990.7 1452.7 991.1 1440 991C1427.3 990.9 1411.3 990.5 1404 990C1396.7 989.5 1398.7 988.8 1396 988C1393.3 987.2 1390.7 985.3 1388 985C1385.3 984.7 1382.3 984.8 1380 986C1377.7 987.2 1376 988.7 1374 992C1372 995.3 1369.7 1000.3 1368 1006C1366.3 1011.7 1365.7 1019.3 1364 1026C1362.3 1032.7 1360 1040 1358 1046C1356 1052 1354 1057.3 1352 1062C1350 1066.7 1348 1070.7 1346 1074C1344 1077.3 1342.3 1079.8 1340 1082C1337.7 1084.2 1335.3 1085.7 1332 1087C1328.7 1088.3 1323.7 1089.3 1320 1089.6C1316.3 1089.9 1315 1089.6 1310 1089C1305 1088.4 1295 1086.8 1290 1086C1285 1085.2 1283.3 1084.7 1280 1084.4C1276.7 1084.1 1273.3 1083.4 1270 1084C1266.7 1084.6 1263.3 1086 1260 1088C1256.7 1090 1253.3 1093.4 1250 1096C1246.7 1098.6 1243 1101.9 1240 1103.6C1237 1105.3 1234.7 1106 1232 1106.4C1229.3 1106.8 1227.3 1106.6 1224 1106C1220.7 1105.4 1216 1104.2 1212 1103C1208 1101.8 1205.3 1100.6 1200 1099C1194.7 1097.4 1186.7 1095.3 1180 1093.6C1173.3 1091.9 1166.7 1090.4 1160 1089C1153.3 1087.6 1150 1086.7 1140 1085C1130 1083.3 1113.3 1080.8 1100 1079C1086.7 1077.2 1073.3 1075.5 1060 1074C1046.7 1072.5 1030.3 1070.9 1020 1070C1009.7 1069.1 1002 1068.7 998.4 1068.4" fill="none" stroke="#f00" stroke-width="3.1" stroke-linejoin="round" stroke-linecap="butt" />
<path d="M998.4 1137.6C1002 1136.2 1013.1 1131.8 1020 1129C1026.9 1126.2 1033.3 1123.3 1040 1121C1046.7 1118.7 1050 1117.5 1060 1115C1070 1112.5 1086.7 1108.5 1100 1106C1113.3 1103.5 1132 1100 1140 1100C1148 1100 1145.7 1104.7 1148 1106C1150.3 1107.3 1152 1109 1154 1108C1156 1107 1158 1103.7 1160 1100C1162 1096.3 1164 1091.3 1166 1086C1168 1080.7 1169.7 1074.8 1172 1068C1174.3 1061.2 1177.7 1054.7 1180 1045C1182.3 1035.3 1184 1020.8 1186 1010C1188 999.2 1190 988.3 1192 980C1194 971.7 1196 965.5 1198 960C1200 954.5 1201.7 951.3 1204 947C1206.3 942.7 1209.3 937.5 1212 934C1214.7 930.5 1217 928.7 1220 926C1223 923.3 1226.7 920.8 1230 918C1233.3 915.2 1237 911.5 1240 909C1243 906.5 1245.3 904.2 1248 903C1250.7 901.8 1253.3 901.3 1256 901.6C1258.7 901.9 1261.3 903.1 1264 905C1266.7 906.9 1269.3 910.3 1272 913C1274.7 915.7 1277 918.2 1280 921C1283 923.8 1286.7 927.6 1290 930C1293.3 932.4 1295 933.4 1300 935.6C1305 937.8 1310 940.2 1320 943C1330 945.8 1346.7 949.6 1360 952.4C1373.3 955.2 1383.3 957.7 1400 960C1416.7 962.3 1440 964 1460 966C1480 968 1500 970.3 1520 972C1540 973.7 1560 975 1580 976C1600 977 1618.8 977.5 1640 978C1661.2 978.5 1695.8 978.8 1707 979" fill="none" stroke="#0f0" stroke-width="3.1" stroke-linejoin="round" stroke-linecap="butt" />
<path d="M1707 979.2C1689.2 979.4 1634.5 980.1 1600 980.5C1565.5 980.9 1533.3 981.2 1500 981.5C1466.7 981.8 1418.7 982.1 1400 982.4C1381.3 982.6 1391.3 983.7 1388 983C1384.7 982.3 1382.7 979.5 1380 978C1377.3 976.5 1374.3 973.8 1372 974C1369.7 974.2 1368 977 1366 979C1364 981 1362 983.2 1360 986C1358 988.8 1355.8 992.3 1354 996C1352.2 999.7 1350.5 1003.7 1349 1008C1347.5 1012.3 1346.2 1016.7 1345 1022C1343.8 1027.3 1343.5 1030.3 1342 1040C1340.5 1049.7 1338.3 1067.3 1336 1080C1333.7 1092.7 1331.3 1106 1328 1116C1324.7 1126 1319.7 1132 1316 1140C1312.3 1148 1309.3 1155.7 1306 1164C1302.7 1172.3 1299 1182.7 1296 1190C1293 1197.3 1290.3 1203.8 1288 1208C1285.7 1212.2 1284 1213.7 1282 1215C1280 1216.3 1278 1216.7 1276 1216C1274 1215.3 1272.7 1213.7 1270 1211C1267.3 1208.3 1265 1206 1260 1200C1255 1194 1246.7 1182.2 1240 1175C1233.3 1167.8 1226.7 1161.4 1220 1157C1213.3 1152.6 1206.7 1150.9 1200 1148.5C1193.3 1146.1 1190 1145.1 1180 1142.5C1170 1139.9 1153.3 1135.9 1140 1133C1126.7 1130.1 1110 1127.2 1100 1125C1090 1122.8 1086.7 1121.8 1080 1120C1073.3 1118.2 1066.7 1116.3 1060 1114C1053.3 1111.7 1046.7 1108 1040 1106C1033.3 1104 1026.9 1103.3 1020 1102C1013.1 1100.7 1002 1099 998.4 1098.4" fill="none" stroke="#0f0" stroke-width="3.1" stroke-linejoin="round" stroke-linecap="butt" />
<path d="M998.4 1132C1002 1130.8 1009.7 1128 1020 1125C1030.3 1122 1046.7 1117.2 1060 1114C1073.3 1110.8 1086.7 1108.3 1100 1106C1113.3 1103.7 1132 1100.1 1140 1100.4C1148 1100.7 1145.7 1106.2 1148 1108C1150.3 1109.8 1152 1111.5 1154 1111C1156 1110.5 1158 1108.8 1160 1105C1162 1101.2 1164 1095.5 1166 1088C1168 1080.5 1170 1070.3 1172 1060C1174 1049.7 1176 1036 1178 1026C1180 1016 1182 1010.3 1184 1000C1186 989.7 1188 973.3 1190 964C1192 954.7 1193.7 950 1196 944C1198.3 938 1201.3 932.7 1204 928C1206.7 923.3 1209.3 919.3 1212 916C1214.7 912.7 1217 911 1220 908C1223 905 1226.7 901.5 1230 898C1233.3 894.5 1237 889.4 1240 887C1243 884.6 1245.3 883.8 1248 883.6C1250.7 883.4 1253.3 884.1 1256 886C1258.7 887.9 1261.3 891.7 1264 895C1266.7 898.3 1269.3 902.2 1272 906C1274.7 909.8 1277 914.3 1280 918C1283 921.7 1286.7 925.3 1290 928C1293.3 930.7 1295 931.6 1300 934C1305 936.4 1310 939.4 1320 942.4C1330 945.4 1346.7 949.3 1360 952C1373.3 954.7 1383.3 956.5 1400 958.7C1416.7 960.9 1440 963 1460 965C1480 967 1500 969.3 1520 971C1540 972.7 1560 973.9 1580 975C1600 976.1 1618.8 976.9 1640 977.4C1661.2 977.9 1695.8 978.1 1707 978.2" fill="none" stroke="#00f" stroke-width="3.1" stroke-linejoin="round" stroke-linecap="butt" />
<path d="M1707 978.6C1689.2 978.8 1634.5 979.6 1600 980C1565.5 980.4 1533.3 980.7 1500 981C1466.7 981.3 1418.7 981.8 1400 982C1381.3 982.2 1391.3 982.8 1388 982C1384.7 981.2 1382.7 978.6 1380 977C1377.3 975.4 1374.3 972.4 1372 972.5C1369.7 972.6 1368 975.4 1366 977.5C1364 979.6 1361.8 982.2 1360 985C1358.2 987.8 1356.5 990.7 1355 994C1353.5 997.3 1352.3 1000.5 1351 1005C1349.7 1009.5 1348.2 1015.2 1347 1021C1345.8 1026.8 1345.5 1030.2 1344 1040C1342.5 1049.8 1340.3 1067.3 1338 1080C1335.7 1092.7 1333 1104.7 1330 1116C1327 1127.3 1323.3 1138 1320 1148C1316.7 1158 1313.3 1167.3 1310 1176C1306.7 1184.7 1303.3 1193.5 1300 1200C1296.7 1206.5 1293 1211.7 1290 1215C1287 1218.3 1284.7 1219.3 1282 1219.6C1279.3 1219.9 1277.7 1220.1 1274 1217C1270.3 1213.9 1265.7 1208.2 1260 1201C1254.3 1193.8 1246.7 1181.6 1240 1174C1233.3 1166.4 1226.7 1160 1220 1155.5C1213.3 1151 1206.7 1149.3 1200 1147C1193.3 1144.7 1190 1144 1180 1141.5C1170 1139 1153.3 1134.9 1140 1132C1126.7 1129.1 1113.3 1126.7 1100 1124C1086.7 1121.3 1073.3 1118.8 1060 1116C1046.7 1113.2 1030.3 1109.6 1020 1107.5C1009.7 1105.4 1002 1104.2 998.4 1103.5" fill="none" stroke="#00f" stroke-width="3.1" stroke-linejoin="round" stroke-linecap="butt" />
<path d="M998.4 1125.6C1002 1124.3 1009.7 1120.8 1020 1118C1030.3 1115.2 1046.7 1111.7 1060 1109C1073.3 1106.3 1090 1103.7 1100 1102C1110 1100.3 1113.7 1099.8 1120 1099C1126.3 1098.2 1134.3 1097.4 1138 1097.4C1141.7 1097.4 1140.3 1097.7 1142 1099C1143.7 1100.3 1146 1103.2 1148 1105C1150 1106.8 1152 1110.2 1154 1110C1156 1109.8 1158 1108 1160 1104C1162 1100 1164 1094 1166 1086C1168 1078 1170 1066.7 1172 1056C1174 1045.3 1176.3 1031.3 1178 1022C1179.7 1012.7 1180.7 1008.3 1182 1000C1183.3 991.7 1184.7 980 1186 972C1187.3 964 1188.3 958.7 1190 952C1191.7 945.3 1194 938 1196 932C1198 926 1200 920.5 1202 916C1204 911.5 1205.7 908.5 1208 905C1210.3 901.5 1213.3 898 1216 895C1218.7 892 1221.3 890 1224 887C1226.7 884 1229.3 880 1232 877C1234.7 874 1237.7 870.6 1240 869C1242.3 867.4 1244 867.4 1246 867.6C1248 867.8 1250 868.6 1252 870C1254 871.4 1256 873.3 1258 876C1260 878.7 1262 882.3 1264 886C1266 889.7 1268 894.2 1270 898C1272 901.8 1273.7 905.3 1276 909C1278.3 912.7 1281.3 916.8 1284 920C1286.7 923.2 1289.3 925.8 1292 928C1294.7 930.2 1295.3 930.7 1300 933C1304.7 935.3 1313.3 939.3 1320 941.6C1326.7 943.9 1333.3 945.4 1340 947C1346.7 948.6 1350 949.3 1360 951C1370 952.7 1383.3 955.1 1400 957.3C1416.7 959.5 1440 961.9 1460 964C1480 966.1 1500 968.3 1520 970C1540 971.7 1560 972.9 1580 974C1600 975.1 1618.8 975.8 1640 976.4C1661.2 977 1695.8 977.4 1707 977.6" fill="none" stroke="#800080" stroke-width="3.1" stroke-linejoin="round" stroke-linecap="butt" />
<path d="M1707 978C1689.2 978.2 1634.5 978.7 1600 979C1565.5 979.3 1533.3 979.7 1500 980C1466.7 980.3 1418.7 980.8 1400 981C1381.3 981.2 1391.3 981.8 1388 981C1384.7 980.2 1382.7 977.7 1380 976C1377.3 974.3 1374.3 971 1372 971C1369.7 971 1367.8 973.8 1366 976C1364.2 978.2 1362.5 981.2 1361 984C1359.5 986.8 1358.3 989.5 1357 993C1355.7 996.5 1354.3 1000.2 1353 1005C1351.7 1009.8 1350.2 1016.2 1349 1022C1347.8 1027.8 1347.5 1030.3 1346 1040C1344.5 1049.7 1342 1068 1340 1080C1338 1092 1336.3 1101.3 1334 1112C1331.7 1122.7 1329 1133.3 1326 1144C1323 1154.7 1319.3 1166.7 1316 1176C1312.7 1185.3 1309.3 1194 1306 1200C1302.7 1206 1299 1209.3 1296 1212C1293 1214.7 1290.7 1215.4 1288 1216C1285.3 1216.6 1283 1216.8 1280 1215.6C1277 1214.4 1273.3 1211.8 1270 1209C1266.7 1206.2 1265 1204.2 1260 1198.5C1255 1192.8 1245 1180.6 1240 1175C1235 1169.4 1233.3 1167.9 1230 1165C1226.7 1162.1 1225 1160.3 1220 1157.5C1215 1154.7 1206.7 1150.6 1200 1148C1193.3 1145.4 1190 1144.7 1180 1142C1170 1139.3 1153.3 1135 1140 1132C1126.7 1129 1113.3 1126.7 1100 1124C1086.7 1121.3 1073.3 1118.8 1060 1116C1046.7 1113.2 1030.3 1109.2 1020 1107C1009.7 1104.8 1002 1103.7 998.4 1103" fill="none" stroke="#800080" stroke-width="3.1" stroke-linejoin="round" stroke-linecap="butt" />
<path d="M998.4 1130C1002 1128.8 1009.7 1125.8 1020 1123C1030.3 1120.2 1046.7 1115.7 1060 1113C1073.3 1110.3 1090 1108.5 1100 1107C1110 1105.5 1113 1105 1120 1104C1127 1103 1137.3 1100.5 1142 1101C1146.7 1101.5 1146 1104.7 1148 1107C1150 1109.3 1152 1113.7 1154 1115C1156 1116.3 1158 1116.8 1160 1115C1162 1113.2 1164 1109.8 1166 1104C1168 1098.2 1170 1090 1172 1080C1174 1070 1176 1055.7 1178 1044C1180 1032.3 1182.3 1020.7 1184 1010C1185.7 999.3 1186.7 989 1188 980C1189.3 971 1190.3 964 1192 956C1193.7 948 1196 939 1198 932C1200 925 1202 919.3 1204 914C1206 908.7 1208 904.2 1210 900C1212 895.8 1213.7 892.7 1216 889C1218.3 885.3 1221.3 881.5 1224 878C1226.7 874.5 1229.3 871.3 1232 868C1234.7 864.7 1237.7 860.2 1240 858C1242.3 855.8 1244 855.4 1246 855C1248 854.6 1250 854.8 1252 855.6C1254 856.4 1256 857.8 1258 860C1260 862.2 1262 865.3 1264 869C1266 872.7 1268 877.5 1270 882C1272 886.5 1273.7 891 1276 896C1278.3 901 1281.3 907.7 1284 912C1286.7 916.3 1289.3 919.2 1292 922C1294.7 924.8 1297 926.8 1300 929C1303 931.2 1306.7 933.3 1310 935C1313.3 936.7 1315 937.5 1320 939C1325 940.5 1333.3 942.5 1340 944C1346.7 945.5 1353.3 946.8 1360 948C1366.7 949.2 1373.3 950.2 1380 951C1386.7 951.8 1386.7 951.2 1400 952.5C1413.3 953.8 1440 956.9 1460 959C1480 961.1 1500 963.2 1520 965C1540 966.8 1560 968.7 1580 970C1600 971.3 1618.8 972.3 1640 973C1661.2 973.7 1695.8 974.2 1707 974.4" fill="none" stroke="#007800" stroke-width="3.1" stroke-linejoin="round" stroke-linecap="butt" />
<path d="M1707 975C1689.2 975.1 1634.5 975.3 1600 975.6C1565.5 975.9 1533.3 976.5 1500 977C1466.7 977.5 1418.7 978.3 1400 978.5C1381.3 978.7 1391.3 979.5 1388 978.4C1384.7 977.3 1382.7 974 1380 972C1377.3 970 1374 966.9 1372 966.4C1370 965.9 1369.7 967.1 1368 969C1366.3 970.9 1364 973.2 1362 978C1360 982.8 1357.7 991 1356 998C1354.3 1005 1353.3 1011.3 1352 1020C1350.7 1028.7 1349.3 1040 1348 1050C1346.7 1060 1345.3 1071 1344 1080C1342.7 1089 1341.3 1096 1340 1104C1338.7 1112 1337.7 1119 1336 1128C1334.3 1137 1332.7 1147.2 1330 1158C1327.3 1168.8 1323.3 1183.7 1320 1193C1316.7 1202.3 1313.3 1208.6 1310 1214C1306.7 1219.4 1302.7 1223 1300 1225.5C1297.3 1228 1296 1228.3 1294 1229C1292 1229.7 1290.3 1230 1288 1229.6C1285.7 1229.2 1283 1228.3 1280 1226.5C1277 1224.7 1273.3 1221.7 1270 1218.5C1266.7 1215.3 1263.3 1211.4 1260 1207.5C1256.7 1203.6 1253.3 1199.2 1250 1195C1246.7 1190.8 1243.3 1186.2 1240 1182C1236.7 1177.8 1233.3 1173.3 1230 1170C1226.7 1166.7 1225 1165 1220 1162C1215 1159 1206.7 1154.8 1200 1152C1193.3 1149.2 1186.7 1147.2 1180 1145C1173.3 1142.8 1166.7 1140.8 1160 1139C1153.3 1137.2 1150 1136.2 1140 1134C1130 1131.8 1113.3 1128.7 1100 1126C1086.7 1123.3 1073.3 1120.7 1060 1118C1046.7 1115.3 1030.3 1111.8 1020 1109.6C1009.7 1107.4 1002 1105.8 998.4 1105" fill="none" stroke="#007800" stroke-width="3.1" stroke-linejoin="round" stroke-linecap="butt" />
<line x1="1250.4" y1="963" x2="1250.4" y2="837.4" stroke="#000" stroke-width="1.2" />
<polygon points="1250.4,821.4 1253.9,837.4 1246.9,837.4" fill="#000"/>
<line x1="1151.6" y1="913.6" x2="1166.5" y2="951.1" stroke="#000" stroke-width="1.2" />
<polygon points="1172.4,966 1163.2,952.4 1169.7,949.8" fill="#000"/>
<line x1="1308" y1="864" x2="1270.2" y2="917.3" stroke="#000" stroke-width="1.2" />
<polygon points="1261,930.4 1267.4,915.3 1273.1,919.4" fill="#000"/>
<line x1="1388" y1="881.6" x2="1346.6" y2="958.9" stroke="#000" stroke-width="1.2" />
<polygon points="1339,973 1343.5,957.2 1349.6,960.6" fill="#000"/>
<text x="1235" y="809" font-size="26">DA</text>
<text x="1313" y="849.6" font-size="26">DA</text>
<text x="1379" y="875.6" font-size="26">No DA</text>
<text x="1129" y="896" font-size="26">AA</text>
<text x="1017" y="1271.5" font-size="30.2">10×10 array (3D Ag/rGO)</text>
<line x1="1372.5" y1="1072.3" x2="1432.8" y2="1072.3" stroke="#000" stroke-width="3.0" />
<text x="1439.6" y="1081.3" font-size="26.8">pbs</text>
<line x1="1372.5" y1="1109" x2="1432.8" y2="1109" stroke="#f00" stroke-width="3.0" />
<text x="1439.6" y="1118" font-size="26.8">DA (0.1µM) + AA(0.1µM)</text>
<line x1="1372.5" y1="1145.7" x2="1432.8" y2="1145.7" stroke="#0f0" stroke-width="3.0" />
<text x="1439.6" y="1154.7" font-size="26.8">DA (1 µM)</text>
<line x1="1372.5" y1="1182.5" x2="1432.8" y2="1182.5" stroke="#00f" stroke-width="3.0" />
<text x="1439.6" y="1191.5" font-size="26.8">DA (10 µM)</text>
<line x1="1372.5" y1="1219.2" x2="1432.8" y2="1219.2" stroke="#800080" stroke-width="3.0" />
<text x="1439.6" y="1228.2" font-size="26.8">DA (20 µM)</text>
<line x1="1372.5" y1="1255.9" x2="1432.8" y2="1255.9" stroke="#007800" stroke-width="3.0" />
<text x="1439.6" y="1264.9" font-size="26.8">DA (50 µM)</text>
<path d="M997.6 733.1V1307.6H1710.3" fill="none" stroke="#000" stroke-width="2.2" stroke-linecap="square"/>
<path d="M997.2 1307.6v11.5M1106.8 1307.6v11.5M1216.4 1307.6v11.5M1326 1307.6v11.5M1435.6 1307.6v11.5M1545.2 1307.6v11.5M1654.8 1307.6v11.5M1052 1307.6v6M1161.6 1307.6v6M1271.2 1307.6v6M1380.8 1307.6v6M1490.4 1307.6v6M1600 1307.6v6M1709.6 1307.6v6M997.6 733.1h-11.5M997.6 876.8h-11.5M997.6 1020.4h-11.5M997.6 1164h-11.5M997.6 1307.7h-11.5M997.6 804.9h-6M997.6 948.6h-6M997.6 1092.2h-6M997.6 1235.9h-6" fill="none" stroke="#000" stroke-width="2.2"/>
</g>
</svg>
</body>
</html>
